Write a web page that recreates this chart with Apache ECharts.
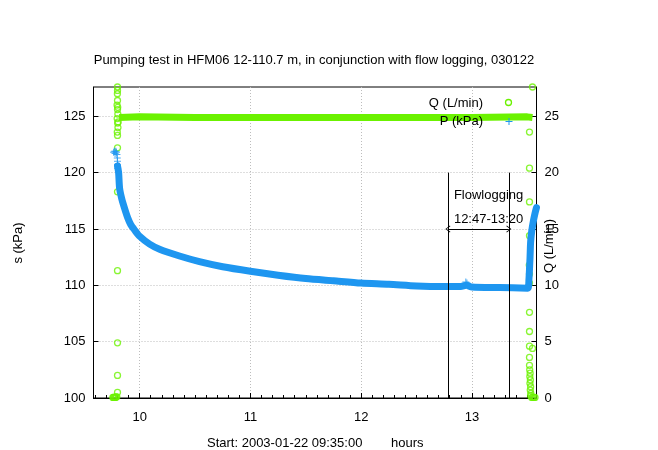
<!DOCTYPE html>
<html><head><meta charset="utf-8">
<script src="https://cdn.jsdelivr.net/npm/echarts@6/dist/echarts.min.js"></script>
<style>html,body{margin:0;padding:0;background:#fff}#c{width:658px;height:450px}</style>
</head><body><div id="c"></div>
<script>
// ---------- data ----------
const titleText = 'Pumping test in HFM06 12-110.7 m, in conjunction with flow logging, 030122';
const xLabelText = 'Start: 2003-01-22 09:35:00';
const xUnitText = 'hours';
const sName = 's (kPa)';
const qName = 'Q (L/min)';
const pName = 'P (kPa)';
const xRange = [9.5833, 13.5833];
const sRange = [100, 127.6];
const qRange = [0, 27.6];
const xMajorTicks = [10, 11, 12, 13];
const sTicks = [100, 105, 110, 115, 120, 125];
const qTicks = [0, 5, 10, 15, 20, 25];

// P (kPa) — dense curve
const pTime  = [9.800, 9.810, 9.819, 9.838, 9.865, 9.892, 9.919, 9.955, 10.00, 10.09, 10.18, 10.36, 10.54, 10.75, 11.00, 11.25, 11.50, 11.75, 12.00, 12.25, 12.50, 12.75, 12.90, 12.95, 13.00, 13.25, 13.505, 13.515, 13.525, 13.530, 13.540, 13.555, 13.570, 13.583];
const pValue = [120.6, 120.0, 118.6, 117.7, 116.8, 116.0, 115.4, 114.9, 114.35, 113.65, 113.2, 112.6, 112.1, 111.65, 111.25, 110.9, 110.6, 110.4, 110.2, 110.1, 109.95, 109.9, 109.9, 110.0, 109.85, 109.8, 109.75, 110.5, 112.5, 113.8, 114.8, 115.7, 116.4, 116.9];
// P (kPa) — scattered points
const pPtTime  = [9.765, 9.772, 9.778, 9.785, 9.790, 9.795, 9.798, 9.800, 9.800, 9.801, 12.945, 12.955];
const pPtValue = [121.8, 121.9, 121.7, 121.9, 121.8, 121.6, 121.3, 121.0, 120.7, 120.4, 110.3, 110.2];

// Q (L/min) — steady flow
const qTime  = [9.815, 10.00, 10.50, 11.00, 11.50, 12.00, 12.50, 13.00, 13.50, 13.547];
const qValue = [24.9, 24.95, 24.9, 24.9, 24.9, 24.9, 24.9, 24.9, 24.95, 24.9];
// Q (L/min) — start-up and shut-down points
const qPtTime  = [9.800, 9.800, 9.799, 9.800, 9.796, 9.800, 9.803, 9.797, 9.801, 9.804, 9.798, 9.802, 9.806, 9.800, 9.800, 9.800, 9.800, 9.800, 9.800, 9.800,
                  9.758, 9.764, 9.770, 9.776, 9.782, 9.788, 9.794,
                  13.547, 13.520, 13.520, 13.520, 13.520, 13.518, 13.520, 13.520, 13.520, 13.520, 13.520, 13.547, 13.520, 13.520,
                  13.522, 13.526, 13.523, 13.528, 13.524, 13.530, 13.527, 13.532, 13.530, 13.540, 13.550, 13.560, 13.570];
const qPtValue = [27.6, 27.3, 27.0, 26.4, 26.0, 25.6, 25.2, 24.8, 24.4, 24.0, 23.6, 25.8, 24.5, 23.3, 22.2, 18.3, 11.3, 4.9, 2.0, 0.5,
                  0.05, 0.05, 0.05, 0.05, 0.05, 0.1, 0.1,
                  27.6, 23.6, 20.4, 17.4, 14.4, 11.8, 11.0, 10.2, 7.6, 5.9, 4.6, 4.4, 3.6, 2.9,
                  2.5, 2.2, 1.9, 1.6, 1.3, 1.0, 0.7, 0.4, 0.2, 0.05, 0.05, 0.05, 0.05];

// Flow logging window
const flowStart = 12.7833, flowEnd = 13.3333;
const flowTop = 120, arrowLevel = 115;
const flowText = 'Flowlogging\n12:47-13:20';

// ---------- chart ----------
const minorTicks = [];
for (let i = 96; i <= 135; i++) minorTicks.push(i / 10);

const zip = (a, b) => a.map((v, i) => [v, b[i]]);
const FONT = '"Liberation Sans", Arial, sans-serif';
const FS = 13;
const GREEN = '#6bf200';
const BLUE = '#1e96f0';
const plusPath = 'path://M3,0H4V3H7V4H4V7H3V4H0V3H3Z';
const chevron = 'path://M5,0L10,9L9,10L5,2.2L1,10L0,9Z';

const chart = echarts.init(document.getElementById('c'), null, {renderer: 'canvas'});
const grid = {left: 93.5, right: 121.5, top: 87, bottom: 52, show: true, borderColor: '#000', borderWidth: 1, backgroundColor: 'transparent'};
const dotted = {color: '#bdbdbd', width: 1, type: [1, 2]};
const axisText = {color: '#000', fontSize: FS, fontFamily: FONT};
const txt = (text, x, y, align, rot) => ({type: 'text', x: x, y: y, rotation: rot || 0, z: 10,
  style: {text: text, fill: '#000', font: FS + 'px ' + FONT, align: align, verticalAlign: 'middle'}});

chart.setOption({
  animation: false,
  backgroundColor: '#fff',
  grid: grid,
  xAxis: [
    {type: 'value', min: xRange[0], max: xRange[1], splitNumber: 4, position: 'bottom',
     axisLine: {show: true, onZero: false, lineStyle: {color: '#000', width: 1}},
     axisTick: {show: true, inside: true, length: 5, customValues: xMajorTicks, lineStyle: {color: '#000'}},
     axisLabel: Object.assign({customValues: xMajorTicks, margin: 13}, axisText),
     splitLine: {show: true, lineStyle: dotted}},
    {type: 'value', min: xRange[0], max: xRange[1], position: 'bottom',
     axisLine: {show: false},
     axisTick: {show: true, inside: true, length: 3, customValues: minorTicks, lineStyle: {color: '#000'}},
     axisLabel: {show: false}, splitLine: {show: false}}
  ],
  yAxis: [
    {type: 'value', min: sRange[0], max: sRange[1], splitNumber: 5, position: 'left',
     axisLine: {show: true, onZero: false, lineStyle: {color: '#000', width: 1}},
     axisTick: {show: true, inside: true, length: 5, customValues: sTicks, lineStyle: {color: '#000'}},
     axisLabel: Object.assign({customValues: sTicks, margin: 8}, axisText),
     splitLine: {show: true, lineStyle: dotted}},
    {type: 'value', min: qRange[0], max: qRange[1], splitNumber: 5, position: 'right',
     axisLine: {show: true, onZero: false, lineStyle: {color: '#000', width: 1}},
     axisTick: {show: true, inside: true, length: 5, customValues: qTicks, lineStyle: {color: '#000'}},
     axisLabel: Object.assign({customValues: qTicks, margin: 8}, axisText),
     splitLine: {show: false}}
  ],
  series: [
    {name: qName, type: 'line', xAxisIndex: 0, yAxisIndex: 1, data: zip(qTime, qValue),
     symbol: 'none', lineStyle: {color: GREEN, width: 7}, z: 2, silent: true},
    {name: qName + ' pts', type: 'scatter', xAxisIndex: 0, yAxisIndex: 1, data: zip(qPtTime, qPtValue),
     symbol: 'circle', symbolSize: 6,
     itemStyle: {color: 'rgba(0,0,0,0)', borderColor: GREEN, borderWidth: 1.3}, z: 2, silent: true},
    {name: pName, type: 'line', xAxisIndex: 0, yAxisIndex: 0, data: zip(pTime, pValue),
     symbol: 'none', smooth: 0.25, lineStyle: {color: BLUE, width: 7, cap: 'round', join: 'round'}, z: 3, silent: true,
     markLine: {
       silent: true, symbol: 'none', animation: false,
       lineStyle: {color: '#000', width: 1, type: 'solid'},
       label: {show: false},
       emphasis: {disabled: true},
       data: [
         [{coord: [flowStart, flowTop]}, {coord: [flowStart, sRange[0]]}],
         [{coord: [flowEnd, flowTop]}, {coord: [flowEnd, sRange[0]]}],
         [{coord: [flowStart, arrowLevel], symbol: chevron, symbolSize: [7, 5],
           label: {show: true, position: 'insideStartTop', distance: [6, -2], formatter: flowText,
                   color: '#000', fontSize: FS, fontFamily: FONT, lineHeight: 24}},
          {coord: [flowEnd, arrowLevel], symbol: chevron, symbolSize: [7, 5]}]
       ]
     }},
    {name: pName + ' pts', type: 'scatter', xAxisIndex: 0, yAxisIndex: 0, data: zip(pPtTime, pPtValue),
     symbol: plusPath, symbolSize: 7, itemStyle: {color: BLUE}, z: 3, silent: true}
  ],
  graphic: [
    txt(titleText, 314, 60, 'center'),
    txt(sName, 18, 243, 'center', Math.PI / 2),
    txt(qName, 549.5, 246, 'center', Math.PI / 2),
    txt(xLabelText, 207, 443, 'left'),
    txt(xUnitText, 391, 443, 'left'),
    txt(qName, 483, 103, 'right'),
    txt(pName, 483, 121, 'right'),
    {type: 'circle', shape: {cx: 508.5, cy: 102.5, r: 3}, z: 10, style: {fill: 'none', stroke: GREEN, lineWidth: 1.3}},
    {type: 'line', shape: {x1: 505.5, y1: 121.5, x2: 512.5, y2: 121.5}, z: 10, style: {stroke: BLUE, lineWidth: 1}},
    {type: 'line', shape: {x1: 509, y1: 118, x2: 509, y2: 125}, z: 10, style: {stroke: BLUE, lineWidth: 1}}
  ]
});
</script></body></html>
